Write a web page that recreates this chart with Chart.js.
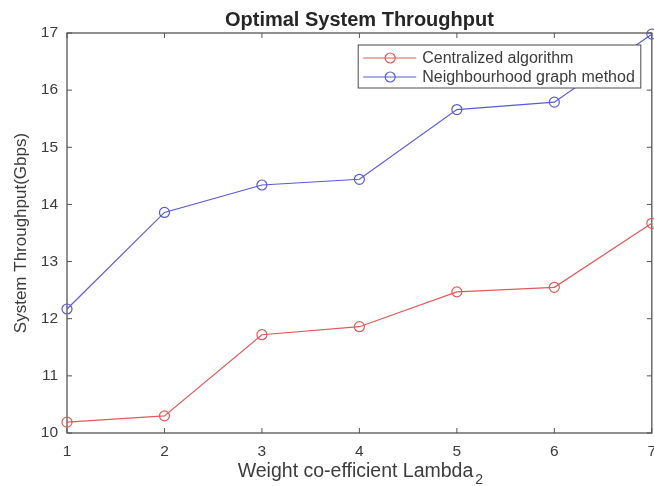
<!DOCTYPE html>
<html>
<head>
    <meta charset="utf-8">
    <title>Optimal System Throughput</title>
    <script src="https://cdn.jsdelivr.net/npm/chart.js@4.4.0/dist/chart.umd.min.js"></script>
    <style>
        html, body { margin: 0; padding: 0; background: #ffffff; overflow: hidden; }
        /* the original figure is cropped at its right edge, so the canvas runs a few px past the frame */
        #frame { width: 654px; height: 486px; overflow: hidden; }
        #wrap { width: 658px; height: 486px; }
    </style>
</head>
<body>
<div id="frame"><div id="wrap"><canvas id="chartThroughput"></canvas></div></div>
<script>
const lambdas = [1, 2, 3, 4, 5, 6, 7]
const centralized = [10.19, 10.30, 11.72, 11.86, 12.47, 12.55, 13.67]
const neighbourhood = [12.17, 13.86, 14.34, 14.44, 15.66, 15.79, 16.98]
const seriesNames = ["Centralized algorithm", "Neighbourhood graph method"]
const yRange = [10, 17]
const xRange = [1, 7]
const chartTitle = "Optimal System Throughput"

const FONT = "'Liberation Sans', Arial, sans-serif"
const AXIS_COLOR = "#555555"
const TEXT_COLOR = "#3c3c3c"
const colors = ["#e05a5a", "#5a5ad6"]

let toPoints = (values) => values.map((v, i) => ({ x: lambdas[i], y: v }))

// MATLAB style box with inward ticks on all four sides, plus title and x label
let boxPlugin = {
    id: "matlabBox",
    beforeDatasetsDraw: (chart) => {
        let { ctx, chartArea: a, scales } = chart
        ctx.save()
        ctx.strokeStyle = AXIS_COLOR
        ctx.lineWidth = 1.3
        ctx.strokeRect(a.left, a.top, a.right - a.left, a.bottom - a.top)
        ctx.lineWidth = 1
        ctx.beginPath()
        for (let t of scales.x.ticks) {
            let px = scales.x.getPixelForValue(t.value)
            ctx.moveTo(px, a.bottom); ctx.lineTo(px, a.bottom - 5)
            ctx.moveTo(px, a.top); ctx.lineTo(px, a.top + 5)
        }
        for (let t of scales.y.ticks) {
            let py = scales.y.getPixelForValue(t.value)
            ctx.moveTo(a.left, py); ctx.lineTo(a.left + 5, py)
            ctx.moveTo(a.right, py); ctx.lineTo(a.right - 5, py)
        }
        ctx.stroke()
        ctx.restore()
    },
    afterDraw: (chart) => {
        let { ctx, chartArea: a } = chart
        let cx = (a.left + a.right) / 2
        ctx.save()
        ctx.textBaseline = "middle"

        // title, centred over the plot box
        ctx.fillStyle = "#262626"
        ctx.font = `bold 20px ${FONT}`
        ctx.textAlign = "center"
        ctx.fillText(chartTitle, cx, a.top - 13)

        // x axis label with subscript
        let main = "Weight co-efficient Lambda"
        let sub = "2"
        ctx.textAlign = "left"
        ctx.fillStyle = TEXT_COLOR
        ctx.font = `19.5px ${FONT}`
        let wMain = ctx.measureText(main).width
        ctx.font = `14px ${FONT}`
        let wSub = ctx.measureText(sub).width
        let x0 = cx - (wMain + wSub) / 2
        let y0 = 472
        ctx.font = `19.5px ${FONT}`
        ctx.fillText(main, x0, y0)
        ctx.font = `14px ${FONT}`
        ctx.fillText(sub, x0 + wMain + 2, y0 + 8)
        ctx.restore()
    }
}

// legend box inside the plot, top right
let legendPlugin = {
    id: "insideLegend",
    afterDatasetsDraw: (chart) => {
        let { ctx, chartArea: a } = chart
        ctx.save()
        ctx.font = `16px ${FONT}`
        let maxW = Math.max(...chart.data.datasets.map(d => ctx.measureText(d.label).width))
        let boxW = 64 + maxW + 6
        let boxH = 43
        let bx = a.right - 11 - boxW
        let by = a.top + 12
        ctx.fillStyle = "#ffffff"
        ctx.fillRect(bx, by, boxW, boxH)
        ctx.strokeStyle = "#4a4a4a"
        ctx.lineWidth = 1
        ctx.strokeRect(bx, by, boxW, boxH)
        chart.data.datasets.forEach((d, i) => {
            let ry = by + 13 + i * 19
            ctx.strokeStyle = d.borderColor
            ctx.lineWidth = 1.2
            ctx.beginPath()
            ctx.moveTo(bx + 5, ry); ctx.lineTo(bx + 58, ry)
            ctx.stroke()
            ctx.beginPath()
            ctx.arc(bx + 32, ry, 5, 0, Math.PI * 2)
            ctx.stroke()
            ctx.fillStyle = TEXT_COLOR
            ctx.textBaseline = "middle"
            ctx.fillText(d.label, bx + 64, ry + 1)
        })
        ctx.restore()
    }
}

let makeDataset = (label, values, color) => ({
    label: label,
    data: toPoints(values),
    borderColor: color,
    backgroundColor: color,
    borderWidth: 1.2,
    pointStyle: "circle",
    pointRadius: 5,
    pointHoverRadius: 5,
    pointBorderWidth: 1.2,
    pointBackgroundColor: "rgba(0,0,0,0)",
    pointBorderColor: color,
    tension: 0,
    clip: false
})

window.addEventListener("load", () => {
    new Chart(document.getElementById("chartThroughput"), {
        type: "line",
        data: {
            datasets: [
                makeDataset(seriesNames[0], centralized, colors[0]),
                makeDataset(seriesNames[1], neighbourhood, colors[1])
            ]
        },
        options: {
            responsive: true,
            maintainAspectRatio: false,
            animation: false,
            layout: { padding: { left: 0, right: 0, top: 33, bottom: 0 } },
            plugins: {
                legend: { display: false },
                tooltip: { enabled: false },
                title: { display: false }
            },
            scales: {
                x: {
                    type: "linear",
                    min: xRange[0],
                    max: xRange[1],
                    grid: { display: false, drawTicks: false },
                    border: { display: false },
                    ticks: {
                        stepSize: 1,
                        padding: 9,
                        color: TEXT_COLOR,
                        font: { family: FONT, size: 15.5 }
                    },
                    afterFit: (scale) => {
                        scale.height = 53
                        scale.paddingLeft = 0
                        scale.paddingRight = 0
                    }
                },
                y: {
                    type: "linear",
                    min: yRange[0],
                    max: yRange[1],
                    grid: { display: false, drawTicks: false },
                    border: { display: false },
                    ticks: {
                        stepSize: 1,
                        padding: 9,
                        color: TEXT_COLOR,
                        font: { family: FONT, size: 15.5 }
                    },
                    title: {
                        display: true,
                        text: "System Throughput(Gbps)",
                        color: TEXT_COLOR,
                        font: { family: FONT, size: 17 },
                        padding: { top: 11, bottom: 0 }
                    },
                    afterFit: (scale) => {
                        scale.width = 67
                        scale.paddingTop = 0
                        scale.paddingBottom = 0
                    }
                }
            }
        },
        plugins: [boxPlugin, legendPlugin]
    })
})
</script>
</body>
</html>
